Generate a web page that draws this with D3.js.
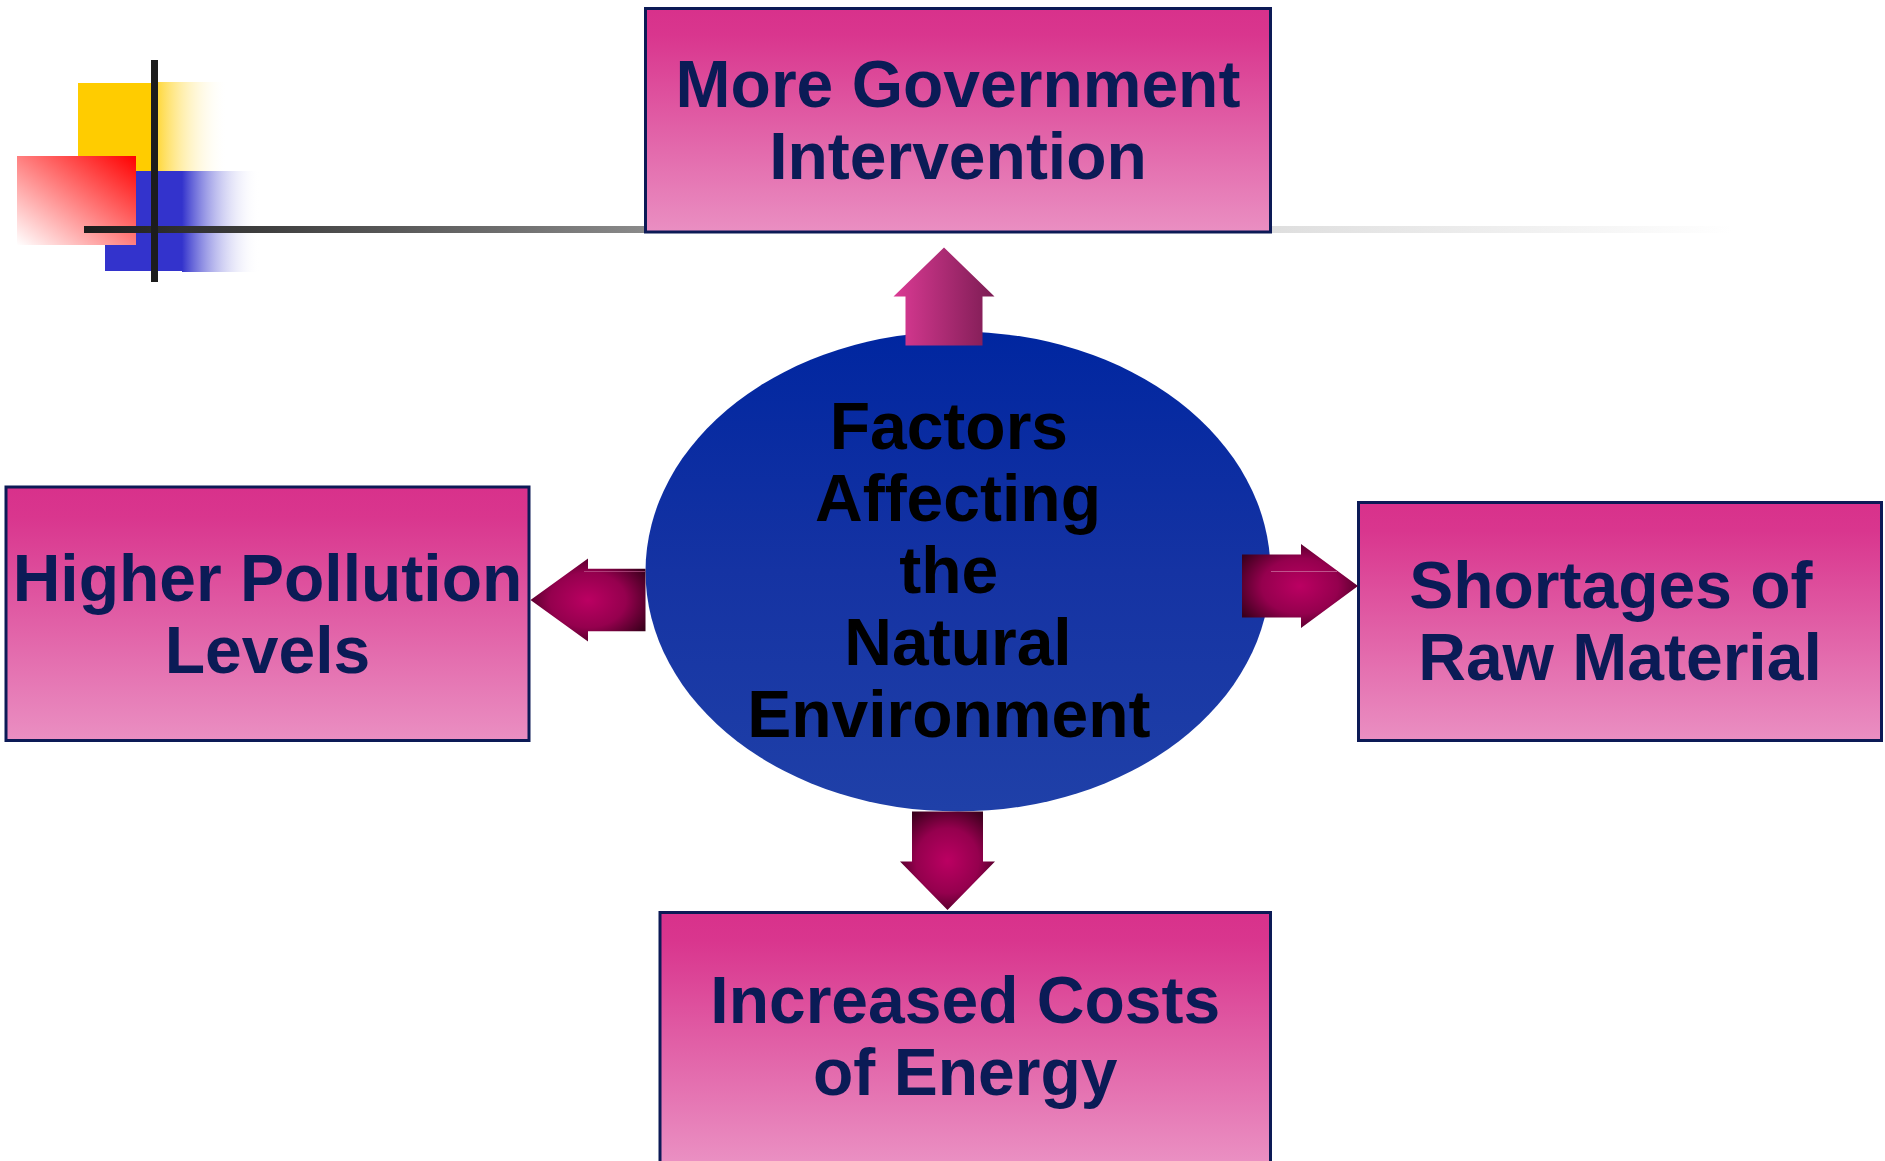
<!DOCTYPE html>
<html>
<head>
<meta charset="utf-8">
<script src="https://cdnjs.cloudflare.com/ajax/libs/d3/7.8.5/d3.min.js"></script>
<style>
  html, body { margin: 0; padding: 0; background: #fff; }
  svg { display: block; }
  text { font-family: "Liberation Sans", Arial, sans-serif; font-weight: bold; white-space: pre; }
</style>
</head>
<body>
<svg id="chart"></svg>
<script>
// labels of the four outer boxes (top, left, right, bottom)
const boxLabels = [
    ["More Government", "Intervention"],
    ["Higher Pollution", "Levels"],
    ["Shortages of ", "Raw Material"],
    ["Increased Costs", "of Energy"]
];
const boxSides = ["up", "left", "right", "down"];

// text in the middle ellipse (trailing spaces are in the original)
const centreLines = ["Factors ", "Affecting", "the ", "Natural", "Environment "];

var svgWidth = 1885, svgHeight = 1161;
var fontSize = 66, lineGap = 72;

var svg = d3.select("#chart")
    .attr("width", svgWidth)
    .attr("height", svgHeight);

var defs = svg.append("defs");

function linearGrad(id, x1, y1, x2, y2, stops) {
    var g = defs.append("linearGradient")
        .attr("id", id)
        .attr("x1", x1).attr("y1", y1)
        .attr("x2", x2).attr("y2", y2);
    stops.forEach(s => {
        g.append("stop")
            .attr("offset", s[0])
            .attr("stop-color", s[1])
            .attr("stop-opacity", s[2] == null ? 1 : s[2]);
    });
}

linearGrad("boxFill", 0, 0, 0, 1, [[0, "#d8318b"], [0.12, "#d9368e"], [1, "#ea8fc2"]]);
// bottom box runs off the page, so its gradient is laid in user space
defs.append("linearGradient").attr("id", "boxFillLow")
    .attr("gradientUnits", "userSpaceOnUse")
    .attr("x1", 0).attr("y1", 912).attr("x2", 0).attr("y2", 1160)
    .selectAll("stop")
    .data([[0, "#d8318b"], [0.12, "#d9368e"], [1, "#ea8fc2"]])
    .join("stop")
    .attr("offset", d => d[0])
    .attr("stop-color", d => d[1]);
linearGrad("ellFill", 0, 0, 0, 1, [[0, "#0026a0"], [0.5, "#1533a3"], [1, "#1f40a8"]]);
linearGrad("upFill", 0, 0, 1, 0, [[0, "#db3a94"], [1, "#7c1c53"]]);
linearGrad("yellowFade", 0, 0, 1, 0, [[0, "#ffcc00", 0.75], [1, "#ffffff", 0]]);
linearGrad("blueFade", 0, 0, 1, 0, [[0, "#3333cc"], [1, "#ffffff", 0]]);
linearGrad("redFade", 1, 0, 0, 1, [[0, "#ff0000"], [1, "#ffffff"]]);
linearGrad("ruleDark", 0, 0, 1, 0, [[0, "#1c1c1c"], [1, "#8a8a8a"]]);
linearGrad("ruleLight", 0, 0, 1, 0, [[0, "#dedede"], [1, "#ffffff"]]);

var rad = defs.append("radialGradient").attr("id", "arrowFill")
    .attr("cx", 0.5).attr("cy", 0.5).attr("r", 0.6);
rad.append("stop").attr("offset", 0).attr("stop-color", "#bb0062");
rad.append("stop").attr("offset", 0.55).attr("stop-color", "#95004e");
rad.append("stop").attr("offset", 1).attr("stop-color", "#3a001c");

// --- corner decoration ---
var deco = svg.append("g");
deco.append("rect").attr("x", 78).attr("y", 83).attr("width", 77).attr("height", 88).attr("fill", "#ffcc00");
deco.append("rect").attr("x", 158).attr("y", 82).attr("width", 70).attr("height", 89).attr("fill", "url(#yellowFade)");
deco.append("rect").attr("x", 105).attr("y", 171).attr("width", 77).attr("height", 100).attr("fill", "#3333cc");
deco.append("rect").attr("x", 182).attr("y", 171).attr("width", 78).attr("height", 101).attr("fill", "url(#blueFade)");
deco.append("rect").attr("x", 17).attr("y", 156).attr("width", 119).attr("height", 89).attr("fill", "url(#redFade)");
deco.append("rect").attr("x", 84).attr("y", 226).attr("width", 562).attr("height", 7).attr("fill", "url(#ruleDark)");
deco.append("rect").attr("x", 1270).attr("y", 226).attr("width", 462).attr("height", 7).attr("fill", "url(#ruleLight)");
deco.append("rect").attr("x", 151).attr("y", 60).attr("width", 7).attr("height", 222).attr("fill", "#1c1c1c");

// --- layout of the outer boxes (base = first text baseline from box top) ---
var boxes = {
    up:    { x: 645.5,  y: 8.5,   w: 625,   h: 223.5, base: 98.5 },
    left:  { x: 6,      y: 487,   w: 523,   h: 253.5, base: 114 },
    right: { x: 1358.5, y: 502.5, w: 523,   h: 238,   base: 105 },
    down:  { x: 660,    y: 912.5, w: 610.5, h: 280,   base: 110.5 }
};

var boxG = svg.selectAll("g.box")
    .data(boxLabels.map((lines, i) => ({ lines, side: boxSides[i], r: boxes[boxSides[i]] })))
    .join("g")
    .attr("class", "box");

boxG.append("rect")
    .attr("x", d => d.r.x)
    .attr("y", d => d.r.y)
    .attr("width", d => d.r.w)
    .attr("height", d => d.r.h)
    .attr("fill", d => d.side === "down" ? "url(#boxFillLow)" : "url(#boxFill)")
    .attr("stroke", "#0c1a56")
    .attr("stroke-width", 3);

boxG.each(function (d) {
    var cx = d.r.x + d.r.w / 2;
    d3.select(this).selectAll("text")
        .data(d.lines)
        .join("text")
        .attr("x", cx)
        .attr("y", (l, i) => d.r.y + d.r.base + i * lineGap)
        .attr("text-anchor", "middle")
        .attr("font-size", fontSize)
        .attr("fill", "#0b1b56")
        .text(l => l);
});

// --- arrows ---
// tip point, direction, head length / width, shaft length / width
var arrows = [
    { side: "up",    tip: [944, 247.5],  head: 49, headW: 101, shaft: 49, shaftW: 77, fill: "url(#upFill)" },
    { side: "left",  tip: [530.5, 600],  head: 57.5, headW: 83, shaft: 57.5, shaftW: 62.5, fill: "url(#arrowFill)" },
    { side: "right", tip: [1358, 586],   head: 57, headW: 84, shaft: 59, shaftW: 63, fill: "url(#arrowFill)" },
    { side: "down",  tip: [947.5, 910],  head: 48.5, headW: 95, shaft: 50, shaftW: 71, fill: "url(#arrowFill)" }
];

function arrowPoints(a) {
    // arrow pointing along +x, tip at origin, then rotated
    var pts = [
        [0, 0], [-a.head, -a.headW / 2], [-a.head, -a.shaftW / 2],
        [-a.head - a.shaft, -a.shaftW / 2], [-a.head - a.shaft, a.shaftW / 2],
        [-a.head, a.shaftW / 2], [-a.head, a.headW / 2]
    ];
    var ang = { right: 0, down: 90, left: 180, up: -90 }[a.side] * Math.PI / 180;
    return pts.map(p => [
        a.tip[0] + p[0] * Math.cos(ang) - p[1] * Math.sin(ang),
        a.tip[1] + p[0] * Math.sin(ang) + p[1] * Math.cos(ang)
    ]);
}

var line = d3.line().curve(d3.curveLinearClosed);

// --- central ellipse ---
svg.append("ellipse")
    .attr("cx", 958)
    .attr("cy", 571.5)
    .attr("rx", 312.5)
    .attr("ry", 240)
    .attr("fill", "url(#ellFill)");

svg.selectAll("path.arrow")
    .data(arrows)
    .join("path")
    .attr("class", "arrow")
    .attr("d", d => line(arrowPoints(d)))
    .attr("fill", d => d.fill);

// thin highlight streaks on the side arrows
svg.append("line").attr("x1", 1271).attr("x2", 1337).attr("y1", 571.5).attr("y2", 571.5)
    .attr("stroke", "#c8689a").attr("stroke-width", 1).attr("opacity", 0.8);
svg.append("line").attr("x1", 584).attr("x2", 645).attr("y1", 571.5).attr("y2", 571.5)
    .attr("stroke", "#c8689a").attr("stroke-width", 1).attr("opacity", 0.6);

svg.selectAll("text.centre")
    .data(centreLines)
    .join("text")
    .attr("class", "centre")
    .attr("x", 958)
    .attr("y", (d, i) => 448.5 + i * 72)
    .attr("text-anchor", "middle")
    .attr("font-size", fontSize)
    .attr("fill", "#000")
    .text(d => d);
</script>
</body>
</html>
